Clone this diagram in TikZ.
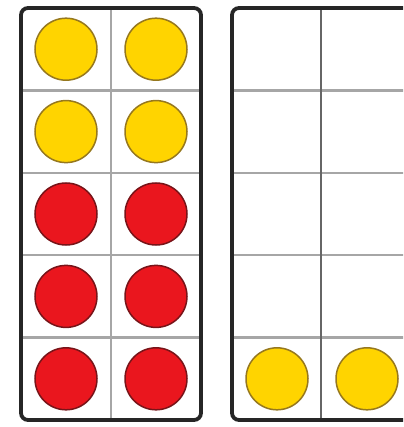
\documentclass[tikz,border=0pt]{standalone}
\usepackage{tikz}

\definecolor{dotyellow}{RGB}{255,212,0}
\definecolor{dotred}{RGB}{234,22,30}
\definecolor{rimyellow}{RGB}{150,120,30}
\definecolor{rimred}{RGB}{120,20,25}

\begin{document}
\begin{tikzpicture}[x=1pt, y=-1pt,
	frame/.style={line width=3.8pt, rounded corners=7pt, black!85},
	grid/.style={line width=2.4pt, gray!70},
	counter/.style={circle, minimum size=62pt, inner sep=0pt, line width=1.5pt},
	yellowdot/.style={counter, fill=dotyellow, draw=rimyellow},
	reddot/.style={counter, fill=dotred, draw=rimred}]
	\useasboundingbox (0,0) rectangle (403,427);
	\clip (0,0) rectangle (403,427);
	% grid lines of both ten-frames
	\foreach \r in {1,...,4} {
		\draw[grid] (21,{8+82.4*\r}) -- (201,{8+82.4*\r});
		\draw[grid] (232,{8+82.4*\r}) -- (412,{8+82.4*\r});
	}
	\draw[grid] (111,8) -- (111,420);
	\draw[grid, gray!80!black] (321,8) -- (321,420);
	\draw[frame] (21,8) rectangle (201,420);
	\draw[frame] (232,8) rectangle (412,420);
	% counters
	\foreach \r in {1,2} {
		\node[yellowdot] (ya\r) at (66,{8+82.4*(\r-0.5)}) {};
		\node[yellowdot] (yb\r) at (156,{8+82.4*(\r-0.5)}) {};
	}
	\foreach \r in {3,4,5} {
		\node[reddot] (ra\r) at (66,{8+82.4*(\r-0.5)}) {};
		\node[reddot] (rb\r) at (156,{8+82.4*(\r-0.5)}) {};
	}
	\node[yellowdot] (yc) at (277,{8+82.4*4.5}) {};
	\node[yellowdot] (yd) at (367,{8+82.4*4.5}) {};
\end{tikzpicture}
\end{document}
